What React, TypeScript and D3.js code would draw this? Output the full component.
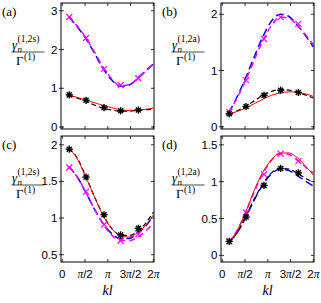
import React from 'react';
import * as d3 from 'd3';

// sample positions (kl) for the curves and for the markers
const KL = [0.45, 1.0, 1.6, 2.2, 2.8, 3.4, 4.0, 4.6, 5.2, 5.8, 6.28];
const MARK_KL = [0.48, 1.64, 2.88, 4.03, 5.25];

// panel (a)
const aRed = [0.82, 0.77, 0.70, 0.63, 0.56, 0.50, 0.45, 0.43, 0.44, 0.46, 0.49];
const aBlack = [0.82, 0.75, 0.67, 0.57, 0.49, 0.44, 0.41, 0.41, 0.43, 0.45, 0.46];
const aBlue = [2.84, 2.60, 2.30, 1.92, 1.52, 1.22, 1.05, 1.08, 1.26, 1.47, 1.63];
const aMagenta = [2.85, 2.62, 2.32, 1.95, 1.56, 1.25, 1.07, 1.09, 1.25, 1.45, 1.61];
const aBlackPts = [0.83, 0.69, 0.50, 0.42, 0.44];
const aMagentaPts = [2.84, 2.30, 1.50, 1.08, 1.26];

// panel (b)
const bRed = [0.22, 0.27, 0.33, 0.41, 0.49, 0.56, 0.60, 0.62, 0.61, 0.58, 0.54];
const bBlack = [0.22, 0.28, 0.36, 0.46, 0.56, 0.63, 0.66, 0.65, 0.61, 0.56, 0.51];
const bBlue = [0.25, 0.52, 0.86, 1.24, 1.60, 1.88, 2.00, 1.96, 1.80, 1.60, 1.42];
const bMagenta = [0.25, 0.50, 0.82, 1.18, 1.53, 1.80, 1.95, 1.93, 1.80, 1.62, 1.46];
const bBlackPts = [0.23, 0.36, 0.56, 0.65, 0.61];
const bMagentaPts = [0.26, 0.83, 1.56, 1.95, 1.83];

// panel (c)
const cRed = [1.95, 1.82, 1.57, 1.30, 1.04, 0.86, 0.76, 0.74, 0.80, 0.91, 1.04];
const cBlack = [1.95, 1.83, 1.58, 1.30, 1.05, 0.86, 0.77, 0.76, 0.82, 0.94, 1.08];
const cBlue = [1.70, 1.57, 1.36, 1.13, 0.93, 0.79, 0.72, 0.72, 0.79, 0.90, 1.03];
const cMagenta = [1.70, 1.57, 1.36, 1.13, 0.92, 0.77, 0.70, 0.69, 0.74, 0.83, 0.93];
const cBlackPts = [1.94, 1.56, 1.045, 0.77, 0.86];
const cMagentaPts = [1.69, 1.36, 0.91, 0.69, 0.78];

// panel (d)
const dRed = [0.18, 0.33, 0.58, 0.88, 1.13, 1.30, 1.39, 1.39, 1.32, 1.20, 1.09];
const dBlack = [0.18, 0.30, 0.52, 0.76, 0.97, 1.12, 1.18, 1.17, 1.11, 1.04, 0.99];
const dBlue = [0.18, 0.30, 0.51, 0.75, 0.96, 1.11, 1.17, 1.15, 1.08, 1.00, 0.94];
const dMagenta = [0.18, 0.33, 0.58, 0.86, 1.11, 1.29, 1.38, 1.37, 1.29, 1.19, 1.12];
const dBlackPts = [0.19, 0.52, 0.95, 1.18, 1.12];
const dMagentaPts = [0.19, 0.58, 1.10, 1.38, 1.28];

// ticks
const xTickVals = [0, Math.PI / 2, Math.PI, 1.5 * Math.PI, 2 * Math.PI];
const xTickLabels = [['0'], ['π', '/2'], ['π'], ['3', 'π', '/2'], ['2', 'π']];
const aTicks = [0, 1, 2, 3];
const bTicks = [0, 1, 2];
const cTicks = [0.5, 1, 1.5, 2];
const dTicks = [0, 0.5, 1, 1.5];

const panels = [
  { letter: '(a)', left: 61, top: 3, yDom: [-0.05, 3.2], ticks: aTicks, sup: '(1,2s)',
    red: aRed, black: aBlack, blue: aBlue, magenta: aMagenta, bPts: aBlackPts, mPts: aMagentaPts, bottom: false },
  { letter: '(b)', left: 221, top: 3, yDom: [-0.04, 2.2], ticks: bTicks, sup: '(1,2a)',
    red: bRed, black: bBlack, blue: bBlue, magenta: bMagenta, bPts: bBlackPts, mPts: bMagentaPts, bottom: false },
  { letter: '(c)', left: 61, top: 136, yDom: [0.4, 2.12], ticks: cTicks, sup: '(1,2s)',
    red: cRed, black: cBlack, blue: cBlue, magenta: cMagenta, bPts: cBlackPts, mPts: cMagentaPts, bottom: true },
  { letter: '(d)', left: 221, top: 136, yDom: [-0.09, 1.62], ticks: dTicks, sup: '(1,2a)',
    red: dRed, black: dBlack, blue: dBlue, magenta: dMagenta, bPts: dBlackPts, mPts: dMagentaPts, bottom: true },
];

const W = 93;
const H = 126;
const SANS = '"Liberation Sans", Arial, sans-serif';
const SERIF = '"Liberation Serif", "Times New Roman", serif';

function Asterisk({ x, y }: { x: number; y: number }) {
  const r = 3.6;
  const s = r * 0.7;
  return (
    <g stroke="#000" strokeWidth={1.4}>
      <line x1={x - r} y1={y} x2={x + r} y2={y} />
      <line x1={x} y1={y - r} x2={x} y2={y + r} />
      <line x1={x - s} y1={y - s} x2={x + s} y2={y + s} />
      <line x1={x - s} y1={y + s} x2={x + s} y2={y - s} />
      <circle cx={x} cy={y} r={1.8} fill="#000" stroke="none" />
    </g>
  );
}

function Cross({ x, y }: { x: number; y: number }) {
  const r = 3;
  return (
    <g stroke="#ff00ff" strokeWidth={1.2}>
      <line x1={x - r} y1={y - r} x2={x + r} y2={y + r} />
      <line x1={x - r} y1={y + r} x2={x + r} y2={y - r} />
    </g>
  );
}

function YLabel({ cx, cy, sup }: { cx: number; cy: number; sup: string }) {
  return (
    <g fontFamily={SERIF} fill="#000">
      <text x={cx - 16} y={cy - 3} fontSize={13} fontStyle="italic">γ</text>
      <text x={cx - 10.5} y={cy - 0.5} fontSize={9} fontStyle="italic">n</text>
      <text x={cx - 10.5} y={cy - 10.5} fontSize={9.5}>{sup}</text>
      <line x1={cx - 16.5} x2={cx + 16.5} y1={cy} y2={cy} stroke="#000" strokeWidth={0.7} />
      <text x={cx - 12} y={cy + 12.5} fontSize={13}>Γ</text>
      <text x={cx - 4} y={cy + 7.5} fontSize={9.5}>(1)</text>
    </g>
  );
}

function Panel({ p }: { p: typeof panels[number] }) {
  const x = d3.scaleLinear().domain([-0.09, 6.33]).range([p.left, p.left + W]);
  const y = d3.scaleLinear().domain(p.yDom).range([p.top + H, p.top]);
  const line = d3.line<number>()
    .x((_, i) => x(KL[i]))
    .y((v) => y(v))
    .curve(d3.curveMonotoneX);
  const bottom = p.top + H;
  const right = p.left + W;
  return (
    <g>
      <rect x={p.left} y={p.top} width={W} height={H} fill="#fff" />
      <path d={line(p.blue) ?? ''} fill="none" stroke="#0000ff" strokeWidth={1.5} strokeDasharray="8 4" />
      <path d={line(p.magenta) ?? ''} fill="none" stroke="#ff00ff" strokeWidth={1.5} strokeDasharray="6 4" />
      <path d={line(p.black) ?? ''} fill="none" stroke="#000" strokeWidth={1.2} strokeDasharray="5 3" />
      <path d={line(p.red) ?? ''} fill="none" stroke="#ff0000" strokeWidth={1} />
      {p.mPts.map((v, i) => <Cross key={'m' + i} x={x(MARK_KL[i])} y={y(v)} />)}
      {p.bPts.map((v, i) => <Asterisk key={'b' + i} x={x(MARK_KL[i])} y={y(v)} />)}
      <rect x={p.left} y={p.top} width={W} height={H} fill="none" stroke="#000" strokeWidth={1} />
      {xTickVals.map((t, i) => (
        <g key={'xt' + i} stroke="#000" strokeWidth={0.8}>
          <line x1={x(t)} x2={x(t)} y1={bottom} y2={bottom - 3} />
          <line x1={x(t)} x2={x(t)} y1={p.top} y2={p.top + 3} />
        </g>
      ))}
      {p.ticks.map((t) => (
        <g key={'yt' + t}>
          <line x1={p.left - 2} x2={p.left + 3} y1={y(t)} y2={y(t)} stroke="#000" strokeWidth={0.8} />
          <line x1={right} x2={right - 3} y1={y(t)} y2={y(t)} stroke="#000" strokeWidth={0.8} />
          <text x={p.left - 3.5} y={y(t) + 4} textAnchor="end" fontFamily={SANS} fontSize={11.5}>{t}</text>
        </g>
      ))}
      {p.bottom && xTickVals.map((t, i) => (
        <text key={'xl' + i} x={x(t)} y={bottom + 16} textAnchor="middle" fontFamily={SANS} fontSize={11.5}>
          {xTickLabels[i].map((s, j) => s === 'π'
            ? <tspan key={j} fontFamily={SERIF} fontStyle="italic">{s}</tspan>
            : <tspan key={j}>{s}</tspan>)}
        </text>
      ))}
      {p.bottom && (
        <text x={p.left + W / 2} y={bottom + 33} textAnchor="middle" fontFamily={SERIF} fontStyle="italic" fontSize={14}>kl</text>
      )}
      <text x={p.left - 59} y={p.top + 13} fontFamily={SERIF} fontSize={13}>{p.letter}</text>
      <YLabel cx={p.left - 33} cy={p.top + 49} sup={p.sup} />
    </g>
  );
}

export default function App() {
  return (
    <svg width={321} height={303} style={{ position: 'absolute', left: 0, top: 0, background: '#fff' }}>
      {panels.map((p) => <Panel key={p.letter} p={p} />)}
    </svg>
  );
}
